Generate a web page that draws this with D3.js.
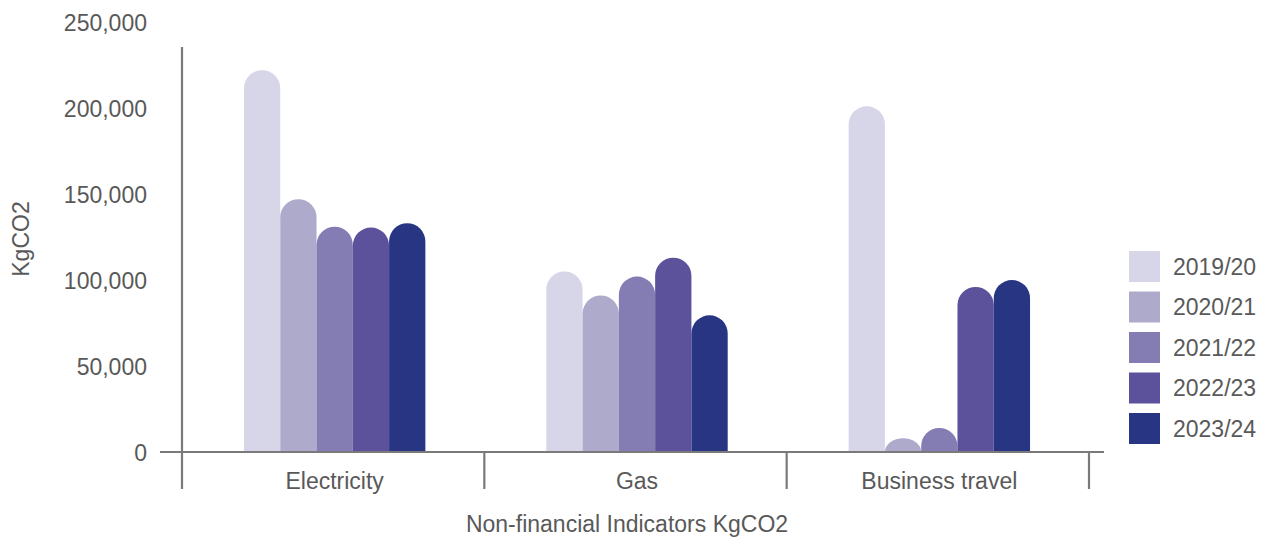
<!DOCTYPE html>
<html>
<head>
<meta charset="utf-8">
<script src="https://cdn.jsdelivr.net/npm/d3@7"></script>
<style>
  html, body { margin: 0; padding: 0; background: #fff; }
  svg { display: block; font-family: "Liberation Sans", Arial, Helvetica, sans-serif; }
</style>
</head>
<body>
<svg id="chart" width="1269" height="537"></svg>
<script>
// Emissions by source, KgCO2
const categories = ["Electricity", "Gas", "Business travel"];
const years = ["2019/20", "2020/21", "2021/22", "2022/23", "2023/24"];
const electricity = [222000, 147000, 131000, 130500, 133000];
const gas = [105000, 91000, 102000, 113000, 79500];
const businessTravel = [201000, 8000, 14000, 96000, 100000];
const yTicks = [0, 50000, 100000, 150000, 200000, 250000];
const colors = ["#d7d5e8", "#aeaacc", "#847db3", "#5b529b", "#283583"];

const seriesByCategory = [electricity, gas, businessTravel];

const svg = d3.select("#chart");
const textColor = "#595959";
const axisColor = "#7a7a7a";
const fontSize = 23;

const x = d3.scaleBand().domain(categories).range([182, 1089]).padding(0);
const y = d3.scaleLinear().domain([0, 250000]).range([452, 22]);

const groupWidth = 0.6 * x.bandwidth();
const groupShift = 1.5;
const x1 = d3.scaleBand().domain(years)
  .range([(x.bandwidth() - groupWidth) / 2 + groupShift, (x.bandwidth() + groupWidth) / 2 + groupShift])
  .padding(0);

// y tick labels
const yAxis = d3.axisLeft(y).tickValues(yTicks).tickSize(0).tickPadding(0)
  .tickFormat(d3.format(","));
const gy = svg.append("g").attr("transform", "translate(147,0)").call(yAxis);
gy.select(".domain").remove();
gy.selectAll("text")
  .attr("fill", textColor)
  .style("font-size", fontSize + "px")
  .style("font-family", "'Liberation Sans', Arial, sans-serif")
  .attr("dy", "0.35em");

// bars with rounded tops
function barPath(x0, w, yt, yb) {
  const h = yb - yt;
  const r = w / 2;
  const ry = Math.min(r, h);
  return `M${x0},${yb}V${yt + ry}A${r},${ry} 0 0 1 ${x0 + r},${yt}` +
         `A${r},${ry} 0 0 1 ${x0 + w},${yt + ry}V${yb}Z`;
}

const groups = svg.append("g").selectAll("g")
  .data(categories.map((c, i) => ({ c, values: seriesByCategory[i] })))
  .join("g")
  .attr("transform", d => `translate(${x(d.c)},0)`);

groups.selectAll("path")
  .data(d => d.values.map((v, i) => ({ year: years[i], v, i })))
  .join("path")
  .attr("fill", d => colors[d.i])
  .attr("d", d => barPath(x1(d.year), x1.bandwidth(), y(d.v), y(0)));

// axis lines
const axes = svg.append("g").attr("stroke", axisColor).attr("stroke-width", 2.2).attr("fill", "none");
axes.append("line").attr("x1", 182).attr("x2", 182).attr("y1", 47).attr("y2", 489);
axes.append("line").attr("x1", 160).attr("x2", 1104).attr("y1", y(0)).attr("y2", y(0));
categories.forEach(c => {
  const xe = x(c) + x.bandwidth();
  axes.append("line").attr("x1", xe).attr("x2", xe).attr("y1", y(0)).attr("y2", 489);
});

// category labels
svg.append("g").selectAll("text")
  .data(categories)
  .join("text")
  .attr("x", d => x(d) + x.bandwidth() / 2 + groupShift)
  .attr("y", 481)
  .attr("dy", "0.35em")
  .attr("text-anchor", "middle")
  .attr("fill", textColor)
  .style("font-size", fontSize + "px")
  .text(d => d);

// axis titles
svg.append("text")
  .attr("x", 627).attr("y", 524).attr("dy", "0.35em")
  .attr("text-anchor", "middle").attr("fill", textColor)
  .style("font-size", fontSize + "px")
  .text("Non-financial Indicators KgCO2");

svg.append("text")
  .attr("transform", "translate(21,239) rotate(-90)")
  .attr("dy", "0.35em")
  .attr("text-anchor", "middle").attr("fill", textColor)
  .style("font-size", fontSize + "px")
  .text("KgCO2");

// legend
const legend = svg.append("g").selectAll("g")
  .data(years)
  .join("g")
  .attr("transform", (d, i) => `translate(1129,${251 + i * 40.5})`);
legend.append("rect").attr("width", 31).attr("height", 31).attr("fill", (d, i) => colors[i]);
legend.append("text")
  .attr("x", 44).attr("y", 15.5).attr("dy", "0.35em")
  .attr("fill", textColor)
  .style("font-size", fontSize + "px")
  .text(d => d);
</script>
</body>
</html>
